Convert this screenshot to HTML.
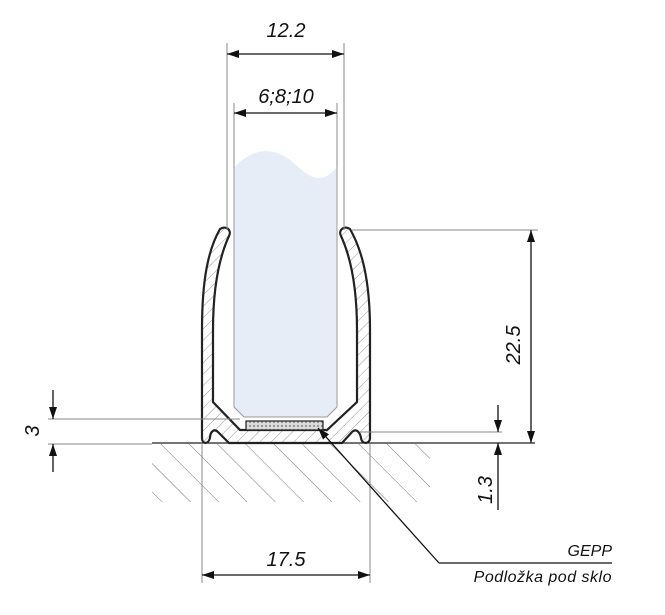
<!DOCTYPE html>
<html><head><meta charset="utf-8"><style>
html,body{margin:0;padding:0;background:#fff}
svg{display:block}
text{font-family:"Liberation Sans",sans-serif;font-style:italic;fill:#111}
</style></head><body>
<svg width="665" height="615" viewBox="0 0 665 615" xmlns="http://www.w3.org/2000/svg">
<defs>
<pattern id="h" patternUnits="userSpaceOnUse" width="8" height="8" patternTransform="rotate(45)">
<line x1="0" y1="0" x2="0" y2="8" stroke="#999" stroke-width="1"/></pattern>
<pattern id="g" patternUnits="userSpaceOnUse" width="20" height="20" patternTransform="rotate(45)">
<line x1="0" y1="0" x2="20" y2="0" stroke="#777" stroke-width="1"/></pattern>
<pattern id="c" patternUnits="userSpaceOnUse" width="4" height="4">
<rect width="4" height="4" fill="#ddd"/><circle cx="2" cy="2" r="1.2" fill="#999"/></pattern>
<marker id="a" viewBox="0 0 12 8" refX="12" refY="4" markerWidth="12" markerHeight="8" orient="auto-start-reverse" markerUnits="userSpaceOnUse">
<path d="M0,0 L12,4 L0,8 Z" fill="#111"/></marker>
</defs>
<rect x="152" y="444" width="278" height="58" fill="url(#g)"/>
<path d="M234,168 C250,150 270,145 290,160 C305,172 318,190 337,167 L337,407 L327,417 L244,417 L234,407 Z" fill="#e6edf7"/>
<line x1="234" y1="168" x2="234" y2="407" stroke="#999"/>
<line x1="337" y1="167" x2="337" y2="407" stroke="#999"/>
<path d="M234,407 L244,417 L327,417 L337,407" fill="none" stroke="#999"/>
<path d="M220,229 C226,225 232,230 229,236 C218,260 213,290 213,330 L213,402 L240,430 L327,430 L357,402 L357,330 C357,290 352,260 341,236 C338,230 344,225 350,229 C362,250 370,280 370,330 L370,438 C370,444 362,445 361,438 C360,432 356,428 352,432 L342,443 L229,443 L218,432 C214,428 210,432 210,438 C208,445 202,444 202,438 L202,330 C202,280 208,250 220,229 Z" fill="url(#h)" stroke="#222" stroke-width="2.2"/>
<rect x="246" y="421" width="77" height="9" fill="url(#c)" stroke="#222" stroke-width="1.2"/>
<line x1="152" y1="443" x2="535" y2="443" stroke="#222" stroke-width="1.2"/>
<g stroke="#888" stroke-width="1">
<line x1="227" y1="43" x2="227" y2="230"/>
<line x1="344" y1="43" x2="344" y2="230"/>
<line x1="234" y1="103" x2="234" y2="168"/>
<line x1="337" y1="103" x2="337" y2="167"/>
<line x1="352" y1="230" x2="538" y2="230"/>
<line x1="360" y1="432" x2="502" y2="432"/>
<line x1="48" y1="419" x2="240" y2="419"/>
<line x1="48" y1="444" x2="152" y2="444"/>
<line x1="202" y1="443" x2="202" y2="583"/>
<line x1="370" y1="443" x2="370" y2="583"/>
</g>
<g stroke="#111" stroke-width="1.3" fill="none">
<line x1="227" y1="54" x2="344" y2="54" marker-start="url(#a)" marker-end="url(#a)"/>
<line x1="234" y1="113" x2="337" y2="113" marker-start="url(#a)" marker-end="url(#a)"/>
<line x1="531" y1="230" x2="531" y2="443" marker-start="url(#a)" marker-end="url(#a)"/>
<line x1="202" y1="575" x2="370" y2="575" marker-start="url(#a)" marker-end="url(#a)"/>
<line x1="498" y1="405" x2="498" y2="432" marker-end="url(#a)"/>
<line x1="498" y1="510" x2="498" y2="443" marker-end="url(#a)"/>
<line x1="53" y1="390" x2="53" y2="419" marker-end="url(#a)"/>
<line x1="53" y1="472" x2="53" y2="444" marker-end="url(#a)"/>
<polyline points="439,563 612,563" stroke-width="1.3"/>
<line x1="439" y1="563" x2="318" y2="428" marker-end="url(#a)"/>
</g>
<g font-size="20">
<text x="286" y="37" text-anchor="middle">12.2</text>
<text x="286" y="103" text-anchor="middle">6;8;10</text>
<text x="286" y="566" text-anchor="middle">17.5</text>
<text transform="translate(520,345) rotate(-90)" text-anchor="middle">22.5</text>
<text transform="translate(492,490) rotate(-90)" text-anchor="middle">1.3</text>
<text transform="translate(39,431) rotate(-90)" text-anchor="middle">3</text>
</g>
<text x="612" y="556" font-size="16" text-anchor="end">GEPP</text>
<text x="612" y="582" font-size="16" text-anchor="end" letter-spacing="0.5">Podložka pod sklo</text>
</svg>
</body></html>
